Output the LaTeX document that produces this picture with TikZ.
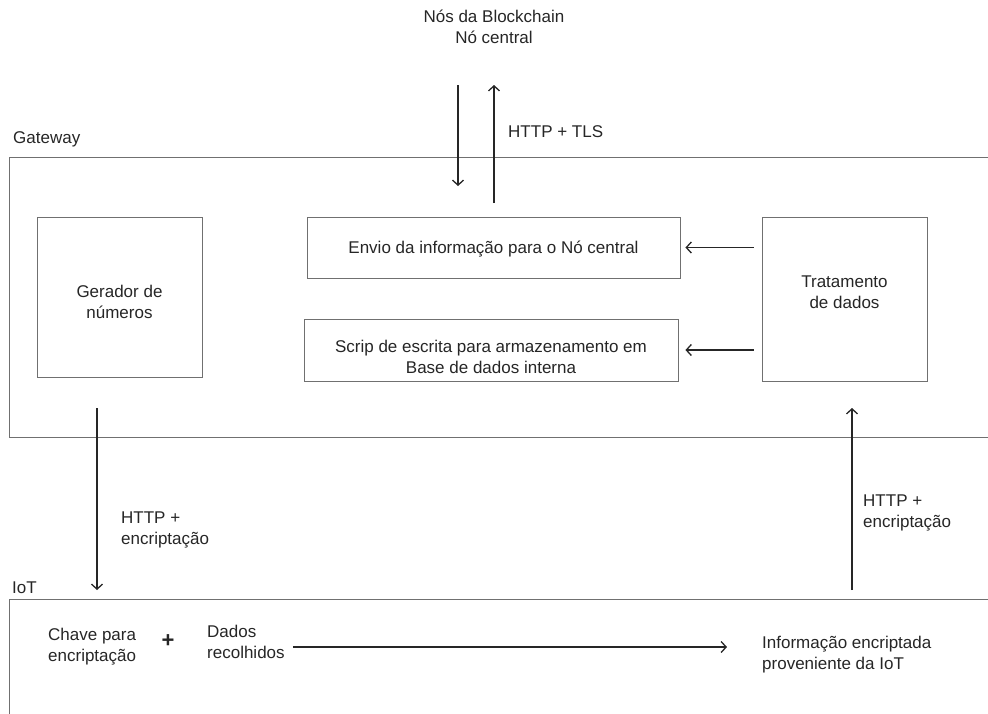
\documentclass[tikz,border=0pt]{standalone}
\usepackage{fontspec}
\setmainfont{Liberation Sans}
\usetikzlibrary{arrows.meta}
\definecolor{frame}{HTML}{707070}
\definecolor{ink}{HTML}{262626}
\begin{document}
\begin{tikzpicture}[x=1pt,y=-1pt,
  lbl/.style={font=\fontsize{17}{20.5}\selectfont, text=ink, inner sep=0pt},
  region/.style={draw=frame, line width=0.9pt},
  block/.style={draw=frame, line width=0.9pt},
  flow/.style={draw=ink, line width=1.3pt, -{Straight Barb[length=5pt,width=11pt,line width=1.3pt]}}]
\useasboundingbox (0,0) rectangle (988,713);
% outer regions
\draw[region] (992,157) -- (9,157) -- (9,437) -- (992,437);
\draw[region] (992,599) -- (9,599) -- (9,717);
\node[lbl, anchor=base west] (gwlabel) at (13,143) {Gateway};
\node[lbl, anchor=base west] (iotlabel) at (12,593) {IoT};
% blockchain (multi-line nodes are placed by the baseline of their last line)
\node[lbl, align=center, anchor=base] (chain) at (494,43) {Nós da Blockchain\\Nó central};
\coordinate (dtop) at (458,85);
\coordinate (dbot) at (458,186);
\coordinate (ubot) at (494,203);
\coordinate (utop) at (494,85);
\draw[flow] (dtop) -- (dbot);
\draw[flow] (ubot) -- (utop);
\node[lbl, anchor=base west] (tls) at (508,137) {HTTP + TLS};
% gateway blocks
\node[block, minimum width=165pt, minimum height=160pt] (gen) at (119.5,297) {};
\node[lbl, align=center, anchor=base] (gentext) at (gen.center |- 0,318) {Gerador de\\números};
\node[block, minimum width=373pt, minimum height=61pt] (send) at (493.5,247.5) {};
\node[lbl, anchor=base] (sendtext) at (send.center |- 0,253) {Envio da informação para o Nó central};
\node[block, minimum width=374pt, minimum height=62pt] (store) at (491,350) {};
\node[lbl, align=center, anchor=base] (storetext) at (store.center |- 0,373) {Scrip de escrita para armazenamento em\\Base de dados interna};
\node[block, minimum width=165pt, minimum height=164pt] (proc) at (844.5,299) {};
\node[lbl, align=center, anchor=base] (proctext) at (proc.center |- 0,308) {Tratamento\\de dados};
\draw[flow] ([xshift=-8pt]proc.west |- send.east) -- ([xshift=5pt]send.east);
\draw[flow] ([xshift=-8pt]proc.west |- store.east) -- ([xshift=7pt]store.east);
% gateway <-> IoT
\coordinate (genout) at (97,408);
\coordinate (iotin) at (97,590);
\draw[flow] (genout) -- (iotin);
\node[lbl, align=left, anchor=base west] (down) at (121,544) {HTTP +\\encriptação};
\coordinate (iotout) at (852,590);
\coordinate (procin) at (852,408);
\draw[flow] (iotout) -- (procin);
\node[lbl, align=left, anchor=base west] (up) at (863,527) {HTTP +\\encriptação};
% IoT contents
\node[lbl, align=left, anchor=base west] (key) at (48,661) {Chave para\\encriptação};
\node[font=\fontsize{22}{22}\selectfont\bfseries, text=ink, inner sep=0pt] (plus) at (168,641) {+};
\node[lbl, align=left, anchor=base west] (data) at (207,658) {Dados\\recolhidos};
\node[lbl, align=left, anchor=base west] (enc) at (762,669) {Informação encriptada\\proveniente da IoT};
\draw[flow] ([xshift=8pt]data.east |- 0,647) -- ([xshift=-35pt]enc.west |- 0,647);
\end{tikzpicture}
\end{document}
